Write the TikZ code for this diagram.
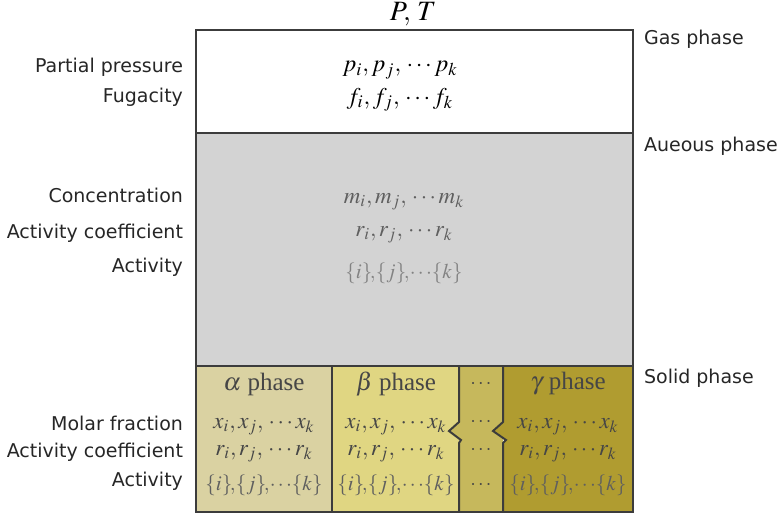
\documentclass[tikz,border=0pt]{standalone}
\usepackage{mathptmx}
\usepackage[no-math]{fontspec}
\setmainfont{Liberation Serif}
\newfontfamily\labelfont{DejaVu Sans}
\usepackage{tikz}
\definecolor{mlborder}{RGB}{60,60,60}
\definecolor{mlaq}{RGB}{211,211,211}
\definecolor{mlalpha}{RGB}{218,210,162}
\definecolor{mlbeta}{RGB}{224,214,130}
\definecolor{mldots}{RGB}{198,184,92}
\definecolor{mlgamma}{RGB}{176,156,48}
\definecolor{mldark}{RGB}{70,70,70}
\definecolor{mlmid}{RGB}{95,95,95}
\definecolor{mllight}{RGB}{130,130,130}
\newcommand{\actrow}{$\{i\}\!,\!\{j\}\!,\!\cdots\!\{k\}$}

\begin{document}
\begin{tikzpicture}[x=0.5pt, y=-0.5pt,
    lbl/.style={font=\labelfont\fontsize{9.5}{11}\selectfont, anchor=east, text=black!85},
    phaselbl/.style={font=\labelfont\fontsize{9.5}{11}\selectfont, anchor=west, text=black!85},
    mathtxt/.style={font=\fontsize{11.5}{13}\selectfont, text=#1},
    acttxt/.style={font=\fontsize{10.5}{12}\selectfont, text=#1},
    phasetitle/.style={font=\fontsize{12.5}{14}\selectfont, text=mldark},
    border/.style={draw=mlborder, line width=1pt}]
\useasboundingbox (0,0) rectangle (780,516);
% Phase regions
\fill[white] (196,30) rectangle (633,133);
\fill[mlaq] (196,133) rectangle (633,366);
\fill[mlalpha] (196,366) rectangle (332,512);
\fill[mlbeta] (332,366) rectangle (459,512);
\fill[mldots] (459,366) -- (459,422) -- (449,431) -- (461,440) -- (459,443)
  -- (459,512) -- (503,512) -- (503,366) -- cycle;
\fill[mlgamma] (503,366) -- (503,422) -- (493,431) -- (506,440) -- (503,443)
  -- (503,512) -- (633,512) -- (633,366) -- cycle;
\draw[border] (196,133) -- (633,133);
\draw[border] (196,366) -- (633,366);
\draw[border] (332,366) -- (332,512);
\draw[border] (459,366) -- (459,422) -- (449,431) -- (461,440) -- (459,443) -- (459,512);
\draw[border] (503,366) -- (503,422) -- (493,431) -- (506,440) -- (503,443) -- (503,512);
\draw[border, line width=1.2pt] (196,30) rectangle (633,512);
% Top
\node[font=\fontsize{14}{16}\selectfont] (pt) at (413,14) {$P,\,T$};
% Gas phase
\node[lbl] (ppress) at (190,67) {Partial pressure};
\node[lbl] (fug) at (190,97) {Fugacity};
\node[mathtxt=black, font=\fontsize{12}{14}\selectfont] (pgas) at (400,70) {$p_i,p_j,\,\cdots p_k$};
\node[mathtxt=black, font=\fontsize{12}{14}\selectfont] (fgas) at (400,100) {$f_i,f_j,\,\cdots f_k$};
\node[phaselbl] (gas) at (637,39) {Gas phase};
% Aqueous phase
\node[lbl] (conc) at (190,195) {Concentration};
\node[lbl] (acoef) at (190,233) {Activity coefficient};
\node[lbl] (act) at (190,267) {Activity};
\node[mathtxt=mlmid] (maq) at (404,202) {$m_i,m_j,\,\cdots m_k$};
\node[mathtxt=mlmid] (raq) at (404,235) {$r_i,r_j,\,\cdots r_k$};
\node[acttxt=mllight] (aaq) at (404,273) {\actrow};
\node[phaselbl] (aq) at (637,146) {Aueous phase};
% Solid phase
\node[lbl] (molar) at (190,423) {Molar fraction};
\node[lbl] (scoef) at (190,452) {Activity coefficient};
\node[lbl] (sact) at (190,481) {Activity};
\node[phaselbl] (solid) at (637,378) {Solid phase};
\node[phasetitle] (alpha) at (264,384) {$\alpha$ phase};
\node[phasetitle] (beta) at (396,384) {$\beta$ phase};
\node[phasetitle] (gamma) at (568,384) {$\gamma$ phase};
\foreach \cx/\nm in {264/a, 396/b, 568/g} {
  \node[mathtxt=mldark] (x\nm) at (\cx,427) {$x_i,x_j,\,\cdots x_k$};
  \node[mathtxt=mldark] (r\nm) at (\cx,454) {$r_i,r_j,\,\cdots r_k$};
  \node[acttxt=mlmid] (s\nm) at (\cx,485) {\actrow};
}
\foreach \cy/\nm in {384/1, 422/2, 450/3, 485/4}
  \node[text=mldark] (dots\nm) at (481,\cy) {$\cdots$};
\end{tikzpicture}
\end{document}
